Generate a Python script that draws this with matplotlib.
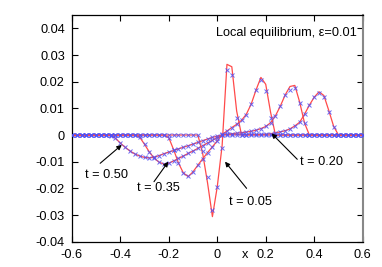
import numpy as np
import matplotlib
matplotlib.use('Agg')
import matplotlib.pyplot as plt
from matplotlib.transforms import blended_transform_factory

plt.rcParams['font.family'] = ['Liberation Sans', 'DejaVu Sans']

# ------------------------------------------------------------
# data: values on the grid x = -0.6 ... 0.6 (step 0.02),
# each curve given from its start point, zero elsewhere
# ------------------------------------------------------------
grid_x = np.round(np.arange(-0.6, 0.6001, 0.02), 2)

t05_start = -0.08
t05_line = [0, -0.007, -0.018, -0.0306, -0.0194, -0.004, 0.0265, 0.0256,
            0.009, 0]
t05_mark = [0, -0.006, -0.0156, -0.028, -0.0194, -0.005, 0.0244, 0.0225,
            0.0065, 0]

t20_start = -0.22
t20_line = [0, -0.001, -0.0055, -0.0105, -0.0142, -0.0156, -0.0138, -0.0113,
            -0.0089, -0.0066, -0.0044, -0.0022, 0.0002, 0.0015, 0.0028,
            0.0040, 0.0055, 0.0078, 0.0116, 0.0169, 0.0216, 0.0190, 0.0085, 0]
t20_mark = [0, -0.001, -0.0055, -0.0105, -0.0142, -0.0154, -0.0138, -0.0113,
            -0.0089, -0.0066, -0.0044, -0.0022, 0.0002, 0.0015, 0.0028,
            0.0040, 0.0055, 0.0075, 0.0116, 0.0169, 0.0205, 0.0166, 0.0063, 0]

t35_start = -0.34
t35_line = [0, -0.0008, -0.0035, -0.0064, -0.0087, -0.0102, -0.0109, -0.0106,
            -0.0097, -0.0088, -0.0079, -0.0069, -0.0060, -0.0050, -0.0040,
            -0.0030, -0.0020, -0.0010, 0.0, 0.0003, 0.0005, 0.0007, 0.0009,
            0.0011, 0.0014, 0.0018, 0.0024, 0.0032, 0.0046, 0.0072, 0.0108,
            0.0150, 0.0182, 0.0186, 0.0123, 0.0045, 0]
t35_mark = [0, -0.0008, -0.0035, -0.0064, -0.0087, -0.0102, -0.0108, -0.0106,
            -0.0097, -0.0088, -0.0079, -0.0069, -0.0060, -0.0050, -0.0040,
            -0.0030, -0.0020, -0.0010, 0.0, 0.0003, 0.0005, 0.0007, 0.0009,
            0.0011, 0.0014, 0.0018, 0.0024, 0.0032, 0.0046, 0.0072, 0.0108,
            0.0150, 0.0170, 0.0176, 0.0120, 0.0045, 0]

t50_start = -0.46
t50_line = [0, -0.0002, -0.0012, -0.0030, -0.0046, -0.0060, -0.0071, -0.0079,
            -0.0084, -0.0086, -0.0083, -0.0077, -0.0070, -0.0064, -0.0058,
            -0.0052, -0.0046, -0.0040, -0.0034, -0.0028, -0.0021, -0.0015,
            -0.0009, -0.0004, 0.0, 0.0001, 0.0001, 0.0001, 0.0001, 0.0001,
            0.0002, 0.0002, 0.0002, 0.0003, 0.0005, 0.0008, 0.0012, 0.0016,
            0.0023, 0.0034, 0.0048, 0.0078, 0.0112, 0.0142, 0.0162, 0.0148,
            0.0092, 0.0033, 0]
t50_mark = [0, -0.0002, -0.0012, -0.0030, -0.0046, -0.0060, -0.0071, -0.0079,
            -0.0084, -0.0085, -0.0083, -0.0077, -0.0070, -0.0064, -0.0058,
            -0.0052, -0.0046, -0.0040, -0.0034, -0.0028, -0.0021, -0.0015,
            -0.0009, -0.0004, 0.0, 0.0001, 0.0001, 0.0001, 0.0001, 0.0001,
            0.0002, 0.0002, 0.0002, 0.0003, 0.0005, 0.0008, 0.0012, 0.0016,
            0.0021, 0.0034, 0.0050, 0.0080, 0.0112, 0.0144, 0.0158, 0.0144,
            0.0087, 0.0029, 0]

curves = [(t05_start, t05_line, t05_mark),
          (t20_start, t20_line, t20_mark),
          (t35_start, t35_line, t35_mark),
          (t50_start, t50_line, t50_mark)]

labels = ['t = 0.05', 't = 0.20', 't = 0.35', 't = 0.50']
label_xy = [(0.049, -0.025), (0.341, -0.010), (-0.332, -0.020), (-0.546, -0.015)]
arrow_tail = [(0.121, -0.020), (0.330, -0.0091), (-0.261, -0.0175), (-0.483, -0.0106)]
arrow_tip = [(0.032, -0.010), (0.224, 0.0006), (-0.202, -0.010), (-0.394, -0.0037)]

xticks = [-0.6, -0.4, -0.2, 0, 0.2, 0.4, 0.6]
xticklabels = ['-0.6', '-0.4', '-0.2', '0', '0.2', '0.4', '0.6']
yticks = [-0.04, -0.03, -0.02, -0.01, 0, 0.01, 0.02, 0.03, 0.04]
yticklabels = ['-0.04', '-0.03', '-0.02', '-0.01', '0', '0.01', '0.02', '0.03', '0.04']


def full_series(start, vals):
    y = np.zeros(len(grid_x))
    i0 = int(round((start + 0.6) / 0.02))
    y[i0:i0 + len(vals)] = vals
    return y


# ------------------------------------------------------------
# figure
# ------------------------------------------------------------
fig = plt.figure(figsize=(3.82, 2.67), dpi=100)
ax = fig.add_axes([0.188, 0.0948, 0.7615, 0.849])

red = '#ff4a4a'
blue = '#5050f5'
fs = 9.2

for start, line_vals, _ in curves:
    ax.plot(grid_x, full_series(start, line_vals), color=red, lw=0.9, zorder=2)
for start, _, mark_vals in curves:
    ax.plot(grid_x, full_series(start, mark_vals), ls='none', marker='x',
            ms=3.0, mew=0.7, color=blue, alpha=0.85, zorder=3)

for lab, pos, tail, tip in zip(labels, label_xy, arrow_tail, arrow_tip):
    ax.text(pos[0], pos[1], lab, fontsize=fs, ha='left', va='center')
    ax.annotate('', xy=tip, xytext=tail,
                arrowprops=dict(arrowstyle='-|>', lw=0.8, color='k',
                                mutation_scale=7, shrinkA=0, shrinkB=0))

ax.text(0.575, 0.0381, 'Local equilibrium, \u03b5=0.01', fontsize=fs,
        ha='right', va='center')

ax.set_xlim(-0.6, 0.6)
ax.set_ylim(-0.04, 0.045)
ax.set_xticks(xticks)
ax.set_xticklabels(xticklabels)
ax.set_yticks(yticks)
ax.set_yticklabels(yticklabels)
ax.tick_params(direction='in', length=4, width=0.8, top=True, right=True,
               labelsize=fs, pad=5)

trans = blended_transform_factory(ax.transData, ax.transAxes)
ax.text(0.114, -0.059, 'x', fontsize=fs, ha='center', va='center',
        transform=trans)

for side in ['left', 'bottom', 'top']:
    ax.spines[side].set_linewidth(0.9)
ax.spines['right'].set_color('#888888')
ax.spines['right'].set_linewidth(1.5)

fig.savefig('out.png', dpi=100)
